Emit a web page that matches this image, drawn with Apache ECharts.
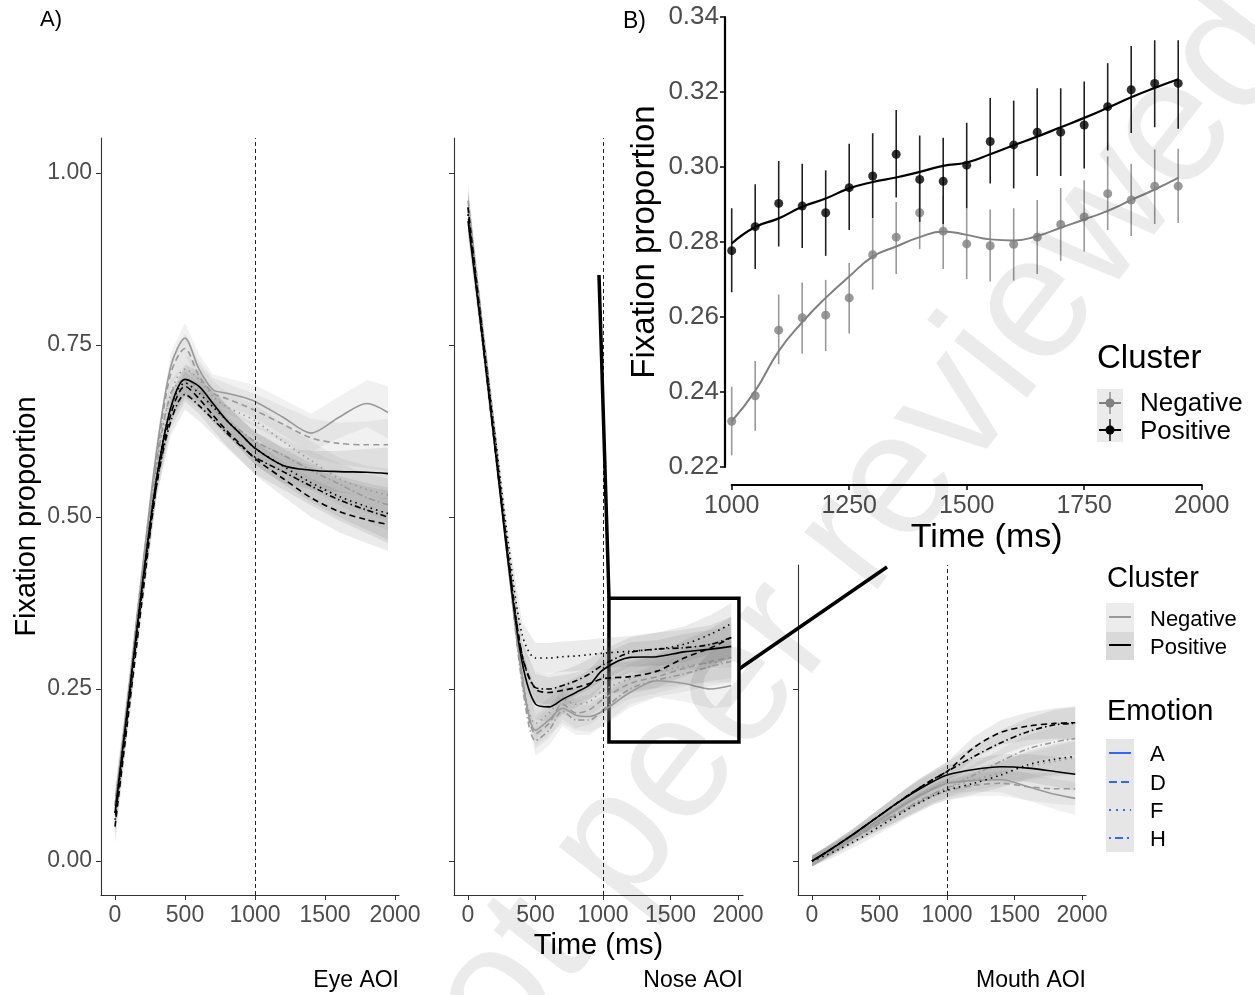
<!DOCTYPE html>
<html>
<head>
<meta charset="utf-8">
<script src="https://cdn.jsdelivr.net/npm/echarts@6/dist/echarts.min.js"></script>
<style>
  html, body { margin: 0; padding: 0; background: #fff; }
  #main { width: 1255px; height: 995px; }
</style>
</head>
<body>
<div id="main"></div>
<script>
// time points (ms) used for the facet curves
const T = [0, 100, 200, 300, 400, 500, 600, 700, 800, 900, 1000, 1200, 1400, 1600, 1800, 1950]
const xTicks = [0, 500, 1000, 1500, 2000]
const yTicks = [0, 0.25, 0.5, 0.75, 1]

// Eye AOI
const eyeNegA = [0.08, 0.25, 0.43, 0.60, 0.72, 0.76, 0.715, 0.685, 0.68, 0.675, 0.668, 0.645, 0.622, 0.645, 0.665, 0.652]
const eyeNegD = [0.08, 0.25, 0.43, 0.59, 0.71, 0.745, 0.705, 0.68, 0.672, 0.664, 0.655, 0.635, 0.615, 0.607, 0.605, 0.605]
const eyeNegF = [0.07, 0.24, 0.42, 0.58, 0.68, 0.715, 0.70, 0.675, 0.66, 0.65, 0.64, 0.61, 0.582, 0.556, 0.54, 0.532]
const eyeNegH = [0.07, 0.24, 0.42, 0.58, 0.68, 0.70, 0.685, 0.66, 0.64, 0.625, 0.61, 0.59, 0.568, 0.548, 0.528, 0.518]
const eyePosA = [0.07, 0.24, 0.41, 0.56, 0.66, 0.70, 0.69, 0.665, 0.64, 0.62, 0.60, 0.575, 0.568, 0.566, 0.565, 0.563]
const eyePosD = [0.05, 0.22, 0.39, 0.55, 0.65, 0.69, 0.672, 0.648, 0.625, 0.605, 0.585, 0.556, 0.528, 0.508, 0.496, 0.489]
const eyePosF = [0.07, 0.24, 0.41, 0.56, 0.66, 0.695, 0.68, 0.66, 0.64, 0.62, 0.60, 0.574, 0.55, 0.53, 0.515, 0.505]
const eyePosH = [0.06, 0.23, 0.40, 0.55, 0.64, 0.678, 0.662, 0.642, 0.622, 0.603, 0.587, 0.566, 0.545, 0.525, 0.51, 0.50]
const eyeSE = [0.025, 0.02, 0.018, 0.018, 0.02, 0.022, 0.022, 0.022, 0.022, 0.022, 0.024, 0.026, 0.028, 0.03, 0.034, 0.038]

// Nose AOI
const noseNegA = [0.95, 0.78, 0.61, 0.43, 0.27, 0.19, 0.205, 0.222, 0.212, 0.21, 0.218, 0.245, 0.262, 0.258, 0.25, 0.255]
const noseNegD = [0.96, 0.79, 0.62, 0.44, 0.27, 0.185, 0.20, 0.228, 0.215, 0.22, 0.235, 0.258, 0.268, 0.28, 0.29, 0.296]
const noseNegF = [0.95, 0.78, 0.61, 0.43, 0.27, 0.20, 0.215, 0.235, 0.228, 0.232, 0.248, 0.265, 0.275, 0.283, 0.288, 0.29]
const noseNegH = [0.95, 0.78, 0.61, 0.43, 0.26, 0.175, 0.19, 0.218, 0.205, 0.205, 0.22, 0.25, 0.263, 0.272, 0.283, 0.29]
const nosePosA = [0.93, 0.77, 0.60, 0.43, 0.29, 0.228, 0.224, 0.235, 0.245, 0.256, 0.278, 0.296, 0.297, 0.304, 0.308, 0.312]
const nosePosD = [0.95, 0.78, 0.61, 0.44, 0.30, 0.25, 0.245, 0.248, 0.252, 0.258, 0.265, 0.268, 0.276, 0.295, 0.31, 0.325]
const nosePosF = [0.94, 0.78, 0.62, 0.46, 0.33, 0.295, 0.295, 0.297, 0.298, 0.30, 0.302, 0.305, 0.308, 0.315, 0.33, 0.345]
const nosePosH = [0.94, 0.77, 0.60, 0.44, 0.30, 0.252, 0.25, 0.255, 0.262, 0.272, 0.285, 0.303, 0.308, 0.31, 0.315, 0.325]
const noseSE = [0.025, 0.018, 0.016, 0.016, 0.018, 0.022, 0.022, 0.022, 0.022, 0.022, 0.022, 0.022, 0.024, 0.026, 0.028, 0.03]

// Mouth AOI
const mouthNegA = [0.0, 0.012, 0.024, 0.036, 0.048, 0.06, 0.072, 0.084, 0.095, 0.105, 0.113, 0.117, 0.118, 0.108, 0.097, 0.091]
const mouthNegD = [0.0, 0.01, 0.021, 0.032, 0.043, 0.054, 0.065, 0.076, 0.086, 0.095, 0.102, 0.11, 0.113, 0.108, 0.105, 0.105]
const mouthNegF = [0.0, 0.011, 0.022, 0.033, 0.044, 0.055, 0.066, 0.077, 0.088, 0.098, 0.106, 0.118, 0.128, 0.137, 0.145, 0.15]
const mouthNegH = [0.0, 0.011, 0.022, 0.033, 0.044, 0.055, 0.066, 0.077, 0.088, 0.098, 0.106, 0.125, 0.145, 0.163, 0.173, 0.178]
const mouthPosA = [0.0, 0.012, 0.025, 0.038, 0.052, 0.066, 0.08, 0.093, 0.105, 0.116, 0.125, 0.133, 0.137, 0.135, 0.13, 0.126]
const mouthPosD = [0.0, 0.012, 0.025, 0.038, 0.052, 0.066, 0.08, 0.094, 0.107, 0.119, 0.13, 0.165, 0.187, 0.196, 0.2, 0.201]
const mouthPosF = [0.0, 0.008, 0.017, 0.027, 0.038, 0.05, 0.062, 0.074, 0.085, 0.095, 0.103, 0.113, 0.125, 0.14, 0.148, 0.152]
const mouthPosH = [0.0, 0.012, 0.025, 0.038, 0.052, 0.066, 0.08, 0.094, 0.107, 0.119, 0.13, 0.152, 0.172, 0.188, 0.198, 0.2]
const mouthSE = [0.008, 0.008, 0.008, 0.008, 0.009, 0.01, 0.011, 0.012, 0.013, 0.013, 0.014, 0.016, 0.018, 0.02, 0.022, 0.024]

// B) nose AOI 1000-2000 ms
const TB = [1000, 1050, 1100, 1150, 1200, 1250, 1300, 1350, 1400, 1450, 1500, 1550, 1600, 1650, 1700, 1750, 1800, 1850, 1900, 1950]
const posMean = [0.2777, 0.2841, 0.2903, 0.2896, 0.2878, 0.2945, 0.2976, 0.3034, 0.2967, 0.2962, 0.3005, 0.3068, 0.3059, 0.3093, 0.3093, 0.3112, 0.3161, 0.3206, 0.3223, 0.3223]
const posLo = [0.2666, 0.2728, 0.2788, 0.2784, 0.2763, 0.2832, 0.2863, 0.2919, 0.2854, 0.2848, 0.2890, 0.2956, 0.2943, 0.2976, 0.2976, 0.2996, 0.3044, 0.3091, 0.3106, 0.3102]
const posHi = [0.2890, 0.2954, 0.3016, 0.3009, 0.2991, 0.3062, 0.3090, 0.3152, 0.3084, 0.3078, 0.3118, 0.3184, 0.3177, 0.3210, 0.3210, 0.3228, 0.3277, 0.3323, 0.3338, 0.3338]
const posFit = [0.2796, 0.2840, 0.2863, 0.2894, 0.2916, 0.2943, 0.2960, 0.2972, 0.2987, 0.3003, 0.3012, 0.3034, 0.3058, 0.3081, 0.3106, 0.3131, 0.3158, 0.3186, 0.3211, 0.3234]
const negMean = [0.2322, 0.2390, 0.2565, 0.2598, 0.2605, 0.2651, 0.2766, 0.2813, 0.2878, 0.2829, 0.2795, 0.2790, 0.2794, 0.2813, 0.2847, 0.2867, 0.2929, 0.2912, 0.2949, 0.2949]
const negLo = [0.2231, 0.2297, 0.2474, 0.2503, 0.2509, 0.2556, 0.2673, 0.2715, 0.2781, 0.2728, 0.2701, 0.2695, 0.2697, 0.2715, 0.2750, 0.2775, 0.2832, 0.2816, 0.2848, 0.2851]
const negHi = [0.2414, 0.2483, 0.2660, 0.2692, 0.2699, 0.2744, 0.2861, 0.2907, 0.2975, 0.2924, 0.2890, 0.2887, 0.2890, 0.2912, 0.2944, 0.2965, 0.3028, 0.3009, 0.3047, 0.3049]
const negFit = [0.2322, 0.2403, 0.2509, 0.2586, 0.2651, 0.2708, 0.2761, 0.2788, 0.2813, 0.2828, 0.2819, 0.2807, 0.2804, 0.2816, 0.2838, 0.2860, 0.2883, 0.2912, 0.2940, 0.2971]

const FONT = '"Liberation Sans", Arial, sans-serif'
const NEG = '#999999'
const POS = '#000000'
const dash = { A: 'solid', D: [6, 4], F: [1.5, 4], H: [1.5, 3, 6, 3] }

const facets = [
  { name: 'Eye AOI', se: eyeSE, neg: { A: eyeNegA, D: eyeNegD, F: eyeNegF, H: eyeNegH }, pos: { A: eyePosA, D: eyePosD, F: eyePosF, H: eyePosH } },
  { name: 'Nose AOI', se: noseSE, neg: { A: noseNegA, D: noseNegD, F: noseNegF, H: noseNegH }, pos: { A: nosePosA, D: nosePosD, F: nosePosF, H: nosePosH } },
  { name: 'Mouth AOI', se: mouthSE, neg: { A: mouthNegA, D: mouthNegD, F: mouthNegF, H: mouthNegH }, pos: { A: mouthPosA, D: mouthPosD, F: mouthPosF, H: mouthPosH } }
]

let chart = echarts.init(document.getElementById('main'))

function band(gi, vals, se, fill) {
  let lo = vals.map((v, i) => v - se[i])
  let hi = vals.map((v, i) => v + se[i])
  return {
    type: 'custom', xAxisIndex: gi, yAxisIndex: gi, silent: true, z: 1,
    data: T.map((t, i) => [t, lo[i], hi[i]]),
    encode: { x: 0, y: [1, 2] },
    renderItem: (params, api) => {
      if (params.dataIndex !== 0) return null
      let top = T.map((t, i) => api.coord([t, hi[i]]))
      let bot = T.map((t, i) => api.coord([t, lo[i]])).reverse()
      return { type: 'polygon', shape: { points: top.concat(bot) }, style: { fill: fill } }
    }
  }
}

function curve(gi, vals, color, type) {
  return {
    type: 'line', xAxisIndex: gi, yAxisIndex: gi, silent: true, z: 3,
    data: T.map((t, i) => [t, vals[i]]),
    smooth: 0.3, showSymbol: false, symbol: 'none',
    lineStyle: { color: color, width: 1.6, type: type }
  }
}

let series = []
facets.forEach((f, gi) => {
  ;['A', 'D', 'F', 'H'].forEach(k => series.push(band(gi, f.neg[k], f.se, 'rgba(170,170,170,0.16)')))
  ;['A', 'D', 'F', 'H'].forEach(k => series.push(band(gi, f.pos[k], f.se, 'rgba(110,110,110,0.14)')))
  ;['A', 'D', 'F', 'H'].forEach(k => series.push(curve(gi, f.neg[k], NEG, dash[k])))
  ;['A', 'D', 'F', 'H'].forEach(k => series.push(curve(gi, f.pos[k], POS, dash[k])))
  // dashed line at 1000 ms
  let s = series[series.length - 1]
  s.markLine = {
    silent: true, symbol: 'none', animation: false,
    label: { show: false },
    lineStyle: { color: '#222', width: 1, type: [4, 3] },
    data: [{ xAxis: 1000 }]
  }
  if (gi === 1) {
    // zoom box shown in panel B
    s.markArea = {
      silent: true,
      itemStyle: { color: 'rgba(0,0,0,0)', borderColor: '#000', borderWidth: 3.5 },
      data: [[{ coord: [1044, 0.382] }, { coord: [2007, 0.173] }]]
    }
  }
})

// panel B
function errbar(vlo, vhi, color, z) {
  return {
    type: 'custom', xAxisIndex: 3, yAxisIndex: 3, silent: true, z: z,
    data: TB.map((t, i) => [t, vlo[i], vhi[i]]),
    encode: { x: 0, y: [1, 2] },
    renderItem: (params, api) => {
      let a = api.coord([api.value(0), api.value(1)])
      let b = api.coord([api.value(0), api.value(2)])
      return { type: 'line', shape: { x1: a[0], y1: a[1], x2: b[0], y2: b[1] }, style: { stroke: color, lineWidth: 1.6 } }
    }
  }
}
series.push(errbar(negLo, negHi, '#9a9a9a', 4))
series.push({
  type: 'scatter', xAxisIndex: 3, yAxisIndex: 3, silent: true, z: 5,
  data: TB.map((t, i) => [t, negMean[i]]), symbolSize: 9, itemStyle: { color: '#808080' }
})
series.push({
  type: 'line', xAxisIndex: 3, yAxisIndex: 3, silent: true, z: 5, smooth: true, symbol: 'none',
  data: TB.map((t, i) => [t, negFit[i]]), lineStyle: { color: '#808080', width: 2 }
})
series.push(errbar(posLo, posHi, '#222', 6))
series.push({
  type: 'scatter', xAxisIndex: 3, yAxisIndex: 3, silent: true, z: 7,
  data: TB.map((t, i) => [t, posMean[i]]), symbolSize: 9, itemStyle: { color: '#000' }
})
series.push({
  type: 'line', xAxisIndex: 3, yAxisIndex: 3, silent: true, z: 7, smooth: true, symbol: 'none',
  data: TB.map((t, i) => [t, posFit[i]]), lineStyle: { color: '#000', width: 2.2 }
})

let tickLabel = { color: '#4d4d4d', fontSize: 23, fontFamily: FONT }

function facetX(gi, min, max, name) {
  return {
    gridIndex: gi, type: 'value', min: min, max: max,
    axisLine: { show: true, onZero: false, lineStyle: { color: '#333', width: 1.1 } },
    axisTick: { show: true, length: 5, customValues: xTicks, lineStyle: { color: '#333' } },
    axisLabel: Object.assign({ margin: 9, customValues: xTicks, formatter: v => String(v) }, tickLabel),
    splitLine: { show: false },
    name: name || '', nameLocation: 'middle', nameGap: 36,
    nameTextStyle: { color: '#000', fontSize: 29, fontFamily: FONT }
  }
}
function facetY(gi, max, showLabel, name) {
  return {
    gridIndex: gi, type: 'value', min: -0.0494, max: max,
    axisLine: { show: true, onZero: false, lineStyle: { color: '#333', width: 1.1 } },
    axisTick: { show: true, length: 5, customValues: yTicks, lineStyle: { color: '#333' } },
    axisLabel: Object.assign({ show: showLabel, margin: 9, customValues: yTicks, formatter: v => v.toFixed(2) }, tickLabel),
    splitLine: { show: false },
    name: name || '', nameLocation: 'middle', nameGap: 60,
    nameTextStyle: { color: '#000', fontSize: 29, fontFamily: FONT }
  }
}

function gtext(x, y, text, size, align, extra) {
  return Object.assign({
    type: 'text', x: x, y: y, silent: true, z: 20,
    style: { text: text, fontSize: size, fontFamily: FONT, fill: '#000', align: align || 'left', verticalAlign: 'middle' }
  }, extra || {})
}
function gline(x1, y1, x2, y2, color, width, dashType) {
  return {
    type: 'line', silent: true, z: 20,
    shape: { x1: x1, y1: y1, x2: x2, y2: y2 },
    style: { stroke: color, lineWidth: width, lineDash: dashType || null }
  }
}

let graphics = [
  gtext(40, 20, 'A)', 22),
  gtext(623, 22, 'B)', 23),
  gtext(399, 981, 'Eye AOI', 23, 'right'),
  gtext(743, 981, 'Nose AOI', 23, 'right'),
  gtext(1086, 981, 'Mouth AOI', 23, 'right'),
  // zoom connectors
  gline(599, 275, 609, 598, '#000', 3.5),
  gline(739, 669, 887, 567, '#000', 3.5),
  // legend: Cluster / Emotion
  gtext(1107, 579, 'Cluster', 29),
  { type: 'rect', silent: true, z: 19, shape: { x: 1106, y: 603, width: 28, height: 29 }, style: { fill: '#ececec' } },
  { type: 'rect', silent: true, z: 19, shape: { x: 1106, y: 632, width: 28, height: 28 }, style: { fill: '#d9d9d9' } },
  gline(1109, 617, 1131, 617, NEG, 2),
  gline(1109, 645, 1131, 645, POS, 2),
  gtext(1150, 620, 'Negative', 22),
  gtext(1150, 648, 'Positive', 22),
  gtext(1107, 712, 'Emotion', 29),
  { type: 'rect', silent: true, z: 19, shape: { x: 1106, y: 739, width: 28, height: 113 }, style: { fill: '#e6e6e6' } },
  gline(1109, 753, 1131, 753, '#3366ff', 2),
  gline(1109, 782, 1131, 782, '#3366ff', 2, [8, 4]),
  gline(1109, 810, 1131, 810, '#3366ff', 2, [2, 5]),
  gline(1109, 838, 1131, 838, '#3366ff', 2, [2, 4, 8, 4]),
  gtext(1150, 755, 'A', 22),
  gtext(1150, 784, 'D', 22),
  gtext(1150, 812, 'F', 22),
  gtext(1150, 840, 'H', 22),
  // legend of panel B
  gtext(1097, 359, 'Cluster', 33),
  { type: 'rect', silent: true, z: 19, shape: { x: 1097, y: 389, width: 26, height: 53 }, style: { fill: '#ebebeb' } },
  gline(1099, 403, 1121, 403, '#808080', 2),
  gline(1110, 392, 1110, 414, '#9a9a9a', 1.6),
  { type: 'circle', silent: true, z: 21, shape: { cx: 1110, cy: 403, r: 4.5 }, style: { fill: '#808080' } },
  gline(1099, 430, 1121, 430, '#000', 2),
  gline(1110, 419, 1110, 441, '#222', 1.6),
  { type: 'circle', silent: true, z: 21, shape: { cx: 1110, cy: 430, r: 4.5 }, style: { fill: '#000' } },
  gtext(1140, 404, 'Negative', 26),
  gtext(1140, 432, 'Positive', 26),
  // watermark
  {
    type: 'text', silent: true, z: 50, x: 835, y: 565, rotation: 52 * Math.PI / 180,
    style: { text: 'not peer reviewed', fontSize: 175, fontFamily: FONT, fill: 'rgba(0,0,0,0.08)', align: 'center', verticalAlign: 'middle' }
  }
]

let option = {
  animation: false,
  backgroundColor: '#fff',
  textStyle: { fontFamily: FONT },
  grid: [
    { left: 101, top: 138, width: 298, height: 757, outerBoundsMode: 'none' },
    { left: 454, top: 138, width: 289, height: 757, outerBoundsMode: 'none' },
    { left: 798, top: 565, width: 288, height: 330, outerBoundsMode: 'none' },
    { left: 731.7, top: 17, width: 470, height: 450, outerBoundsMode: 'none' }
  ],
  xAxis: [
    facetX(0, -100, 2028.6),
    facetX(1, -103.7, 2037, 'Time (ms)'),
    facetX(2, -103.7, 2029.6),
    {
      gridIndex: 3, type: 'value', min: 1000, max: 2000, interval: 250, offset: 18,
      axisLine: { show: true, onZero: false, lineStyle: { color: '#000', width: 2.2 } },
      axisTick: { show: true, length: 5, lineStyle: { color: '#000', width: 1.5 } },
      axisLabel: { color: '#4d4d4d', fontSize: 25, fontFamily: FONT, margin: 9, formatter: v => String(v) },
      splitLine: { show: false },
      name: 'Time (ms)', nameLocation: 'middle', nameGap: 36,
      nameTextStyle: { color: '#000', fontSize: 34, fontFamily: FONT, padding: [0, 0, 0, 40] }
    }
  ],
  yAxis: [
    facetY(0, 1.0509, true, 'Fixation proportion'),
    facetY(1, 1.0509, false),
    facetY(2, 0.4302, false),
    {
      gridIndex: 3, type: 'value', min: 0.22, max: 0.34, interval: 0.02, offset: 6.7,
      axisLine: { show: true, onZero: false, lineStyle: { color: '#000', width: 2.2 } },
      axisTick: { show: true, length: 5, lineStyle: { color: '#000', width: 1.5 } },
      axisLabel: { color: '#4d4d4d', fontSize: 26, fontFamily: FONT, margin: 6, formatter: v => v.toFixed(2) },
      splitLine: { show: false },
      name: 'Fixation proportion', nameLocation: 'middle', nameGap: 64,
      nameTextStyle: { color: '#000', fontSize: 33, fontFamily: FONT }
    }
  ],
  graphic: { elements: graphics },
  series: series
}

chart.setOption(option)
</script>
</body>
</html>
